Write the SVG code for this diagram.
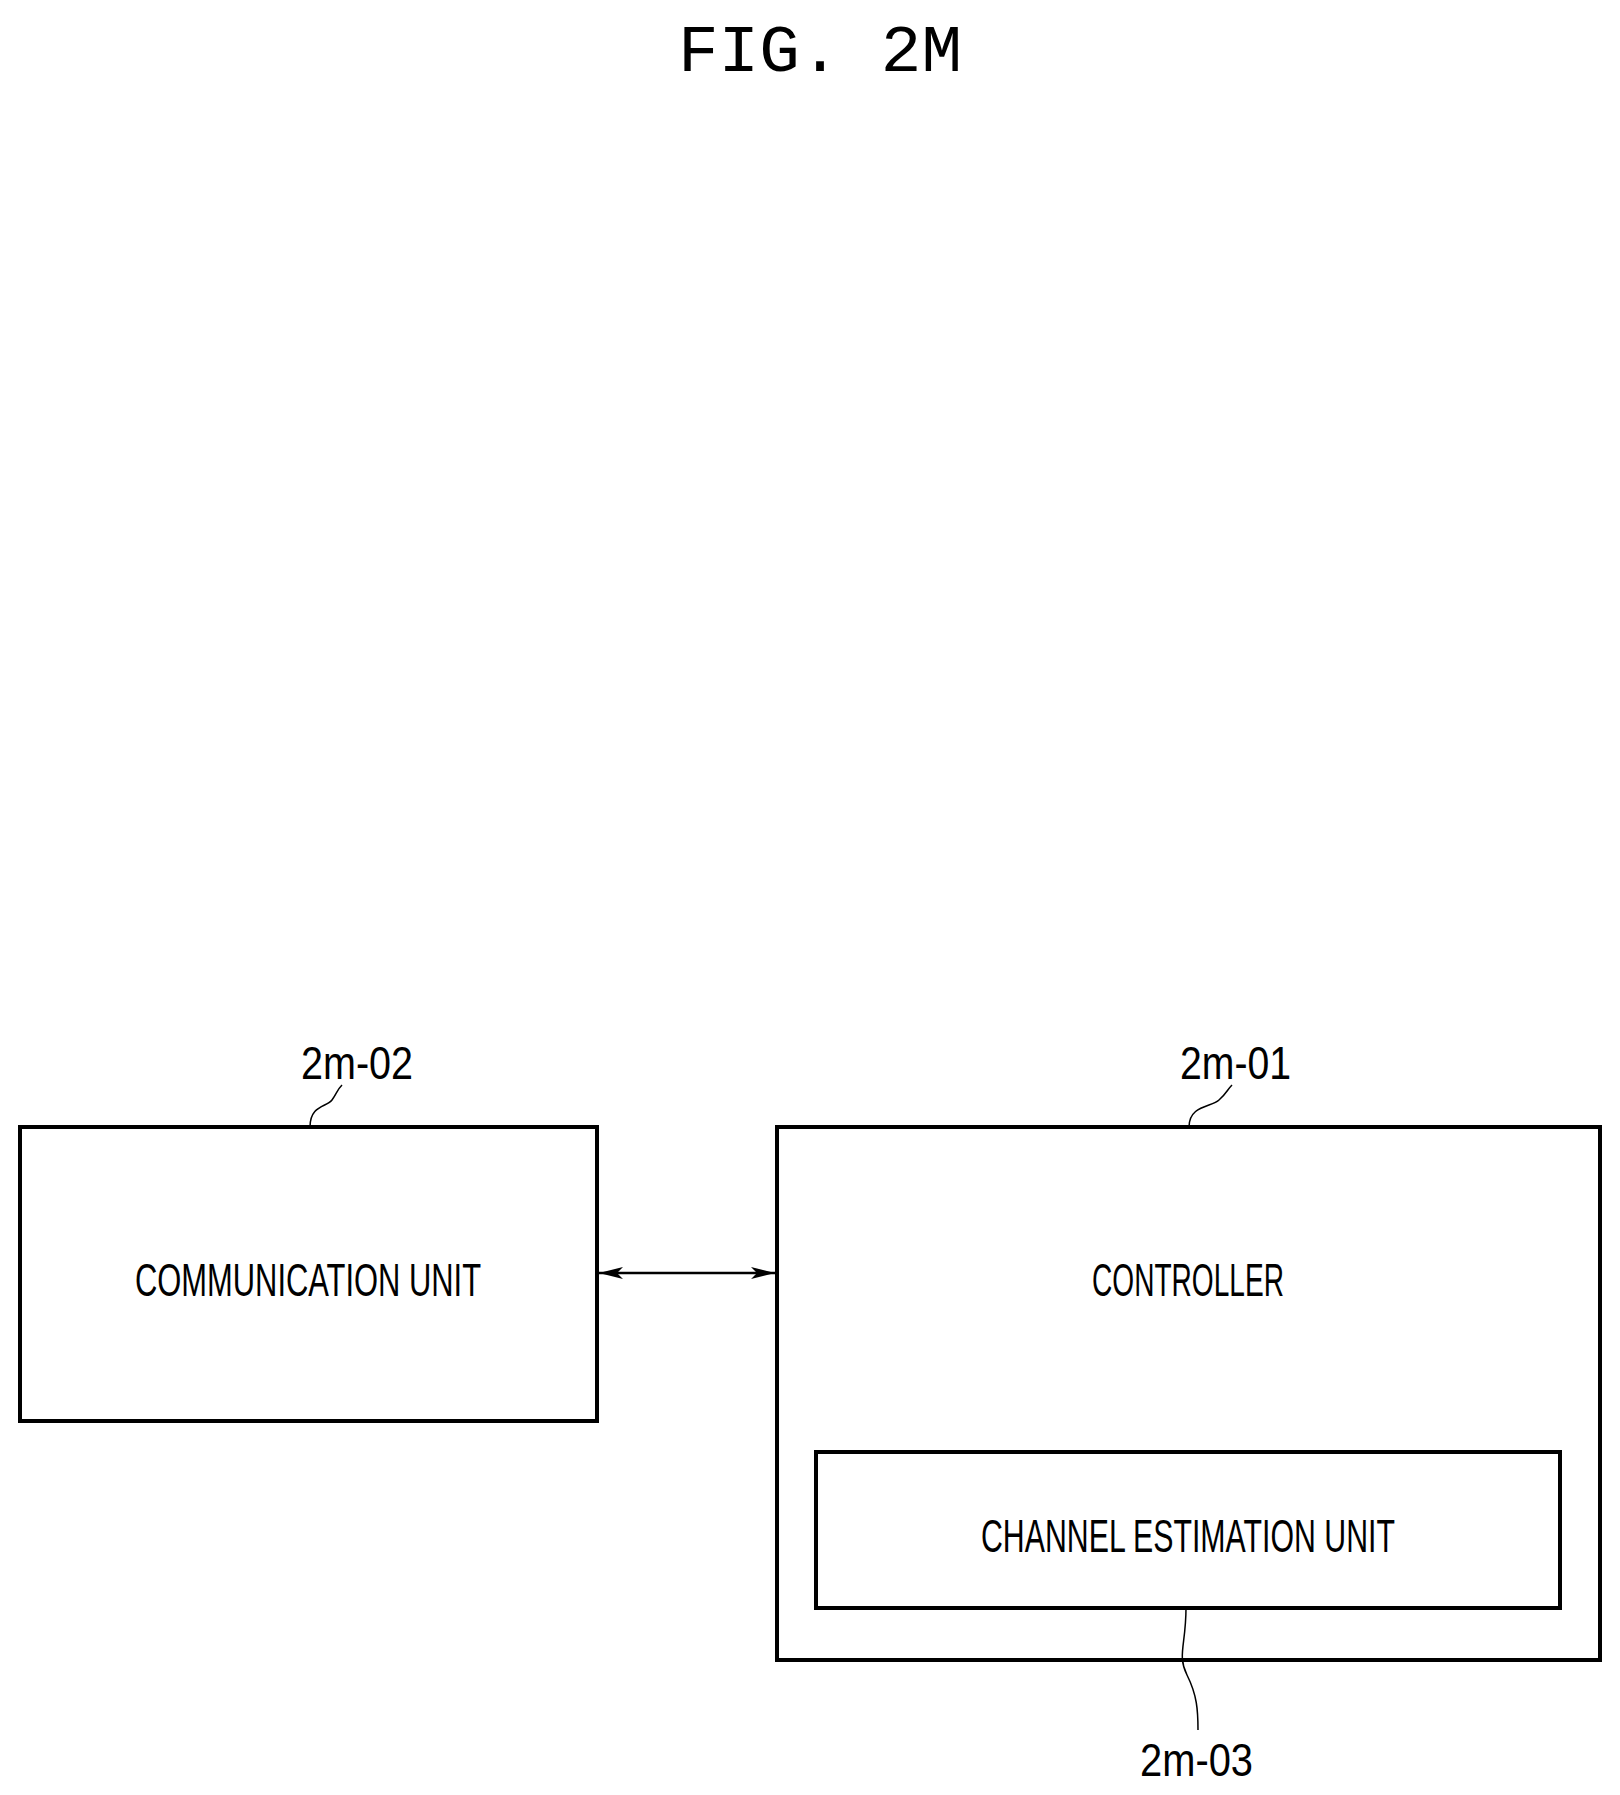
<svg xmlns="http://www.w3.org/2000/svg" width="1620" height="1795" viewBox="0 0 1620 1795">
<style>
.box{fill:none;stroke:#000;stroke-width:4}
.lead{fill:none;stroke:#000;stroke-width:1.5}
.t{font-family:"Liberation Sans Narrow","Liberation Sans",sans-serif;font-size:46px;text-anchor:start}
</style>
<defs>
<marker id="ah" viewBox="0 0 24 14" refX="24" refY="7" markerWidth="24" markerHeight="14" orient="auto-start-reverse" markerUnits="userSpaceOnUse">
<path d="M0,1 L24,7 L0,13 L6,7 Z" fill="#000"/>
</marker>
</defs>
<rect width="1620" height="1795" fill="#fff"/>
<g transform="translate(-3,-5)">
<text x="681" y="76" font-family="Liberation Mono,monospace" font-size="66" textLength="284" lengthAdjust="spacingAndGlyphs">FIG. 2M</text>
<g id="comm">
<rect class="box" x="23" y="1132" width="577" height="294"/>
<text class="t" x="138" y="1301" textLength="346" lengthAdjust="spacingAndGlyphs">COMMUNICATION UNIT</text>
<path class="lead" d="M313,1132 C313,1110 330,1112 335,1105 C340,1098 340,1095 345,1090"/>
<text class="t" x="304" y="1084" textLength="112" lengthAdjust="spacingAndGlyphs">2m-02</text>
</g>
<g id="controller">
<rect class="box" x="780" y="1132" width="823" height="533"/>
<text class="t" x="1095" y="1301" textLength="192" lengthAdjust="spacingAndGlyphs">CONTROLLER</text>
<path class="lead" d="M1192,1132 C1192,1110 1215,1112 1222,1105 C1230,1098 1230,1095 1235,1090"/>
<text class="t" x="1183" y="1084" textLength="111" lengthAdjust="spacingAndGlyphs">2m-01</text>
</g>
<g id="chest">
<rect class="box" x="819" y="1457" width="744" height="156"/>
<text class="t" x="984" y="1557" textLength="414" lengthAdjust="spacingAndGlyphs">CHANNEL ESTIMATION UNIT</text>
<path class="lead" d="M1189,1613 C1189,1650 1180,1660 1190,1680 C1200,1700 1201,1715 1201,1735"/>
<text class="t" x="1143" y="1781" textLength="113" lengthAdjust="spacingAndGlyphs">2m-03</text>
</g>
<g id="connectors">
<line x1="602" y1="1278" x2="778" y2="1278" stroke="#000" stroke-width="2.5" marker-start="url(#ah)" marker-end="url(#ah)"/>
</g>
</g>
</svg>
